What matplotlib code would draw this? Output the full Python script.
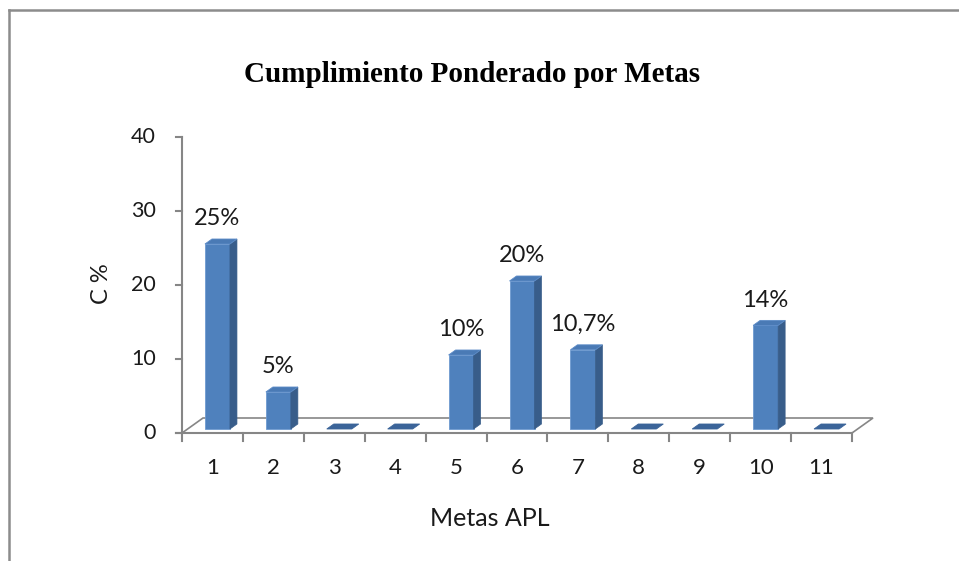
import numpy as np
import matplotlib.pyplot as plt
from matplotlib.patches import Polygon

plt.rcParams['font.family'] = ['Lato', 'DejaVu Sans']

categorias = ['1', '2', '3', '4', '5', '6', '7', '8', '9', '10', '11']
valores = [25, 5, 0, 0, 10, 20, 10.7, 0, 0, 14, 0]
etiquetas = ['25%', '5%', '', '', '10%', '20%', '10,7%', '', '', '14%', '']
yticks = [0, 10, 20, 30, 40]

W, H = 959, 561
fig = plt.figure(figsize=(W / 100, H / 100), dpi=100)

# marco gris del grafico
fig.add_artist(plt.Line2D([9 / W, 1], [1 - 10 / H, 1 - 10 / H], color='#8c8c8c', lw=1.8))
fig.add_artist(plt.Line2D([9 / W, 9 / W], [0, 1 - 10 / H], color='#8c8c8c', lw=1.8))

x0, x1, y0, y1 = 182, 852, 433, 137
ax = fig.add_axes([x0 / W, 1 - y0 / H, (x1 - x0) / W, (y0 - y1) / H])
n = len(categorias)
ax.set_xlim(0.5, n + 0.5)
ax.set_ylim(0, 40)
ax.axis('off')

# tamano de un pixel en unidades de datos
px = n / (x1 - x0)
py = 40 / (y0 - y1)
gris = '#868686'

# piso en perspectiva
fx, fy = 21 * px, 15 * py
piso = Polygon([(0.5, 0), (n + 0.5, 0), (n + 0.5 + fx, fy), (0.5 + fx, fy)],
               closed=True, facecolor='white', edgecolor=gris, lw=1.2, clip_on=False, zorder=1)
ax.add_patch(piso)

# eje vertical
ax.plot([0.5, 0.5], [0, 40], color=gris, lw=1.5, clip_on=False, zorder=2)
for t in yticks:
    ax.plot([0.5 - 6 * px, 0.5], [t, t], color=gris, lw=1.5, clip_on=False, zorder=2)
    ax.text(0.5 - 26 * px, t, str(t), ha='right', va='center', fontsize=15.5, color='#1a1a1a')

# eje horizontal y marcas
for k in range(n + 1):
    ax.plot([0.5 + k, 0.5 + k], [0, -8 * py], color=gris, lw=1.5, clip_on=False, zorder=2)
ax.plot([0.5 - 6 * px, n + 0.5], [0, 0], color=gris, lw=1.5, clip_on=False, zorder=2)
for i, c in enumerate(categorias):
    ax.text(i + 1, -35 * py, c, ha='center', va='center', fontsize=16, color='#1a1a1a')

# barras 3D
frente, lado, tapa = '#4f81bd', '#385d8a', '#4a7ab5'
bw = 25 * px
sx, sy = 5 * px, 4 * py
dx, dy = 7 * px, 5 * py
for i, v in enumerate(valores):
    cx = i + 1 + sx
    l, r = cx - bw / 2, cx + bw / 2
    b, t = sy, sy + v
    if v > 0:
        ax.add_patch(Polygon([(l, b), (r, b), (r, t), (l, t)], closed=True,
                             facecolor=frente, edgecolor='#6f9ad0', lw=0.6, zorder=3))
        ax.add_patch(Polygon([(r, b), (r + dx, b + dy), (r + dx, t + dy), (r, t)], closed=True,
                             facecolor=lado, edgecolor=lado, lw=0.5, zorder=3))
    ax.add_patch(Polygon([(l, t), (r, t), (r + dx, t + dy), (l + dx, t + dy)], closed=True,
                         facecolor=tapa if v > 0 else '#3b6499', edgecolor='#5d8cc8' if v > 0 else '#3b6499',
                         lw=0.6, zorder=3, clip_on=False))
    if etiquetas[i]:
        ax.annotate(etiquetas[i], (cx, t + dy), xytext=(0, 10), textcoords='offset points',
                    ha='center', va='baseline', fontsize=17, color='#1a1a1a')

fig.text(102 / W, 1 - 284 / H, 'C %', rotation=90, ha='center', va='center',
         fontsize=17, color='#1a1a1a')
fig.text(490 / W, 1 - 518 / H, 'Metas APL', ha='center', va='center',
         fontsize=18, color='#1a1a1a')
fig.text(472 / W, 1 - 75 / H, 'Cumplimiento Ponderado por Metas', ha='center', va='center',
         fontsize=21, fontweight='bold', family='Liberation Serif', color='black')

fig.savefig('out.png', dpi=100, facecolor='white')
